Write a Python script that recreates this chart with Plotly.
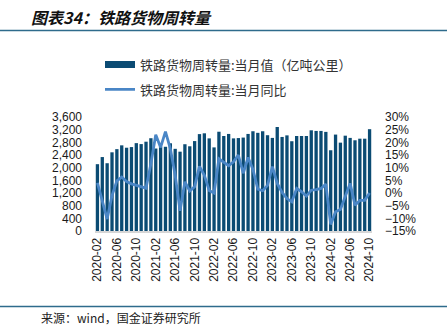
import plotly.graph_objects as go

# ---------------- data ----------------
months = [
    "2020-02", "2020-03", "2020-04", "2020-05", "2020-06", "2020-07", "2020-08", "2020-09", "2020-10", "2020-11", "2020-12",
    "2021-01", "2021-02", "2021-03", "2021-04", "2021-05", "2021-06", "2021-07", "2021-08", "2021-09", "2021-10", "2021-11", "2021-12",
    "2022-01", "2022-02", "2022-03", "2022-04", "2022-05", "2022-06", "2022-07", "2022-08", "2022-09", "2022-10", "2022-11", "2022-12",
    "2023-01", "2023-02", "2023-03", "2023-04", "2023-05", "2023-06", "2023-07", "2023-08", "2023-09", "2023-10", "2023-11", "2023-12",
    "2024-01", "2024-02", "2024-03", "2024-04", "2024-05", "2024-06", "2024-07", "2024-08", "2024-09", "2024-10",
]

# 铁路货物周转量:当月值（亿吨公里）
turnover = [
    2110, 2335, 2140, 2485, 2585, 2705, 2630, 2650, 2775, 2745, 2820,
    2930, 2605, 2665, 2660, 2770, 2595, 2505, 2740, 2675, 2840, 3060, 3085,
    2925, 2640, 3135, 3000, 3065, 2925, 2935, 2950, 3065, 3150, 3100, 3150,
    3025, 2940, 3285, 2970, 3020, 2835, 3000, 3000, 3000, 3180, 3160, 3160,
    3130, 2550, 3045, 2790, 3010, 2940, 2865, 2915, 2915, 3215,
]

# 铁路货物周转量:当月同比（%）
yoy = [
    4.0, -3.5, -10.3, -1.0, 4.8, 6.3, 4.5, 3.6, 3.0, 2.5, 1.9,
    11.5, 23.0, 18.0, 24.2, 17.5, 7.0, -7.0, 4.4, 0.8, 2.5, 10.5, 7.0,
    1.0, 0.0, 13.5, 12.0, 10.8, 12.3, 15.0, 7.8, 14.0, 9.3, 1.5, 0.9,
    3.0, 10.4, 3.8, 0.2, -2.2, -3.5, 1.8, 0.5, -1.2, 1.1, 1.3, 1.8,
    3.5, -12.4, -7.4, -6.5, -1.2, 3.8, -4.8, -2.9, -2.9, 0.0,
]

x_ticks = ["2020-02", "2020-06", "2020-10", "2021-02", "2021-06", "2021-10", "2022-02", "2022-06",
           "2022-10", "2023-02", "2023-06", "2023-10", "2024-02", "2024-06", "2024-10"]

bar_name = "铁路货物周转量:当月值（亿吨公里）"
line_name = "铁路货物周转量:当月同比"
title_text = "图表34：铁路货物周转量"
source_text = "来源：wind，国金证券研究所"

# ---------------- style ----------------
W, H = 447, 325
ML, MR, MT, MB = 95, 75, 117, 94
PW, PH = W - ML - MR, H - MT - MB
BAR_COLOR = "#0b4b73"
LINE_COLOR = "#4a86c6"
RULE_COLOR = "#2e6b8c"
CJK = "Noto Sans CJK SC"
LAT = "Liberation Sans, Arial, sans-serif"


def px_x(p):
    return (p - ML) / PW


def px_y(p):
    return (H - MB - p) / PH


fig = go.Figure()
fig.add_trace(go.Bar(
    x=months, y=turnover, marker=dict(color=BAR_COLOR, line=dict(width=0)),
    showlegend=False, yaxis="y", name=bar_name,
))
fig.add_trace(go.Scatter(
    x=[None], y=[None], mode="lines", line=dict(color=BAR_COLOR, width=7),
    name=bar_name, legend="legend", hoverinfo="skip",
))
fig.add_trace(go.Scatter(
    x=months, y=yoy, mode="lines", line=dict(color=LINE_COLOR, width=2.8),
    name=line_name, yaxis="y2", legend="legend2",
))

legend_common = dict(
    font=dict(family=CJK, size=13, color="#333333"),
    bgcolor="rgba(0,0,0,0)", borderwidth=0, itemwidth=30,
    xanchor="left", yanchor="middle", orientation="v",
)

fig.update_layout(
    width=W, height=H,
    margin=dict(l=ML, r=MR, t=MT, b=MB, pad=0),
    paper_bgcolor="white", plot_bgcolor="white",
    bargap=0.32,
    font=dict(family=LAT, size=12, color="#1a1a1a"),
    legend=dict(x=px_x(100), y=px_y(64.5), **legend_common),
    legend2=dict(x=px_x(100), y=px_y(89.5), **legend_common),
    xaxis=dict(
        type="category", range=[-0.5, len(months) - 0.5],
        tickmode="array", tickvals=x_ticks, ticktext=x_ticks, tickangle=-90,
        showline=True, linecolor="#d6d6d6", linewidth=2,
        ticks="", showgrid=False, zeroline=False,
        tickfont=dict(family=LAT, size=12, color="#1a1a1a"),
    ),
    yaxis=dict(
        range=[0, 3600], dtick=400, tick0=0, tickformat=",",
        showgrid=False, zeroline=False, showline=False, ticks="",
        ticklabelstandoff=12,
        tickfont=dict(family=LAT, size=12, color="#1a1a1a"),
    ),
    yaxis2=dict(
        overlaying="y", side="right", range=[-15, 30], dtick=5, tick0=-15,
        ticksuffix="%", showgrid=False, zeroline=False, showline=False, ticks="",
        ticklabelstandoff=12,
        tickfont=dict(family=LAT, size=12, color="#1a1a1a"),
    ),
    showlegend=True,
)

fig.add_annotation(
    text=f"<b><i>{title_text}</i></b>", xref="paper", yref="paper",
    x=px_x(29), y=px_y(17), xanchor="left", yanchor="middle", showarrow=False,
    font=dict(family=CJK, size=16, color="#111111"),
)
fig.add_annotation(
    text=source_text, xref="paper", yref="paper",
    x=px_x(39), y=px_y(317), xanchor="left", yanchor="middle", showarrow=False,
    font=dict(family=CJK, size=12, color="#222222"),
)
fig.add_shape(type="line", xref="paper", yref="paper",
              x0=px_x(0), x1=px_x(W), y0=px_y(30.5), y1=px_y(30.5),
              line=dict(color=RULE_COLOR, width=1.5))
fig.add_shape(type="line", xref="paper", yref="paper",
              x0=px_x(0), x1=px_x(W), y0=px_y(306.5), y1=px_y(306.5),
              line=dict(color=RULE_COLOR, width=1.5))

fig.write_html("out.html")
